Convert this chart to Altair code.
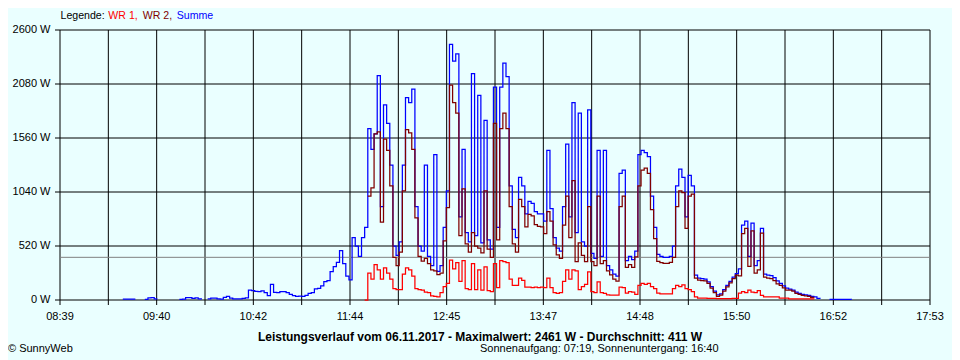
import altair as alt
import pandas as pd

# ---------------- data ----------------
START_MIN = 519          # 08:39 as minutes after midnight
END_MIN = 1073           # 17:53
STEP_MIN = 2             # sample spacing of the lists below (minutes)

N = None
summe = (
    [N] * 20
    + [8, 8, 8, 8, 8, N, N, 5, 20, 22, 12, 12, N, 6, N, N, N, N]
    + [5, 8, 22, 22, 15, 20, 10, 5, N, 10, 18, 18, 10, 8]
    + [25, 35, 18, 10, 10, 12, 15, 20]
    + [96, 90, 82, 80, 87, 70, 42, 150, 74, 70]
    + [80, 80, 70, 55, 42, 35, 38, 35, 45, 64]
    + [70, 106, 112, 135, 177, 186, 273, 321, 363, 475]
    + [350, 230, 195, 600, 520, 420, 600, 700, 1650, 1450]
    + [1600, 2160, 900, 1880, 1700, 1300, 520, 430, 560, 1300]
    + [1950, 1900, 2030, 900, 520, 470, 1300, 420, 330, 1400]
    + [275, 330, 700, 1050, 2461, 2300, 2370, 800, 1450, 650]
    + [560, 2180, 620, 1970, 550, 1730, 580, 490, 2050, 700]
    + [2050, 2280, 2150, 1100, 680, 600, 1180, 1100, 830, 950]
    + [930, 850, 830, 830, 760, 1440, 880, 600, 500, 470]
    + [900, 1500, 800, 1900, 650, 1800, 560, 520, 1830, 450]
    + [400, 1440, 420, 1440, 330, 290, 250, 230, 1220, 1250]
    + [380, 420, 390, 470, 1400, 1440, 1420, 1380, 1000, 700]
    + [440, 420, 410, 410, 420, 520, 1100, 1260, 1180, 800]
    + [1200, 1100, 240, 210, 205, 200, 175, 130, 85, 50]
    + [60, 100, 140, 180, 220, 255, 300, 720, 760, 420]
    + [740, 330, 380, 690, 250, 240, 235, 215, 185, 160]
    + [135, 115, 105, 95, 75, 65, 55, 50, 45, 35]
    + [30, 15, 12, N, N, 7, 7, 7, 7, 7]
    + [7, 7, 5, N, 5, N, N, N, N, N]
    + [N] * 18
)

wr1 = (
    [N] * 97
    + [0]
    + [260, 200, 340, 290, 200, 310, 260, 200, 110, 100]
    + [100, 250, 310, 290, 230, 110, 100, 95, 75, 70]
    + [40, 35, 30, 70, 130, 160, 385, 300, 360, 180]
    + [380, 110, 100, 350, 100, 290, 95, 320, 90, 80]
    + [350, 120, 380, 370, 360, 200, 140, 140, 210, 190]
    + [125, 125, 120, 125, 120, 125, 120, 210, 120, 70]
    + [65, 70, 180, 290, 200, 290, 280, 100, 130, 150]
    + [270, 80, 70, 175, 70, 65, 50, 48, 48, 48]
    + [125, 120, 67, 80, 75, 55, 140, 160, 150, 160]
    + [130, 110, 67, 60, 58, 58, 58, 110, 140, 130]
    + [145, 110, 100, 80, 30, 19, 18, 17, 16, 15]
    + [15, 14, 14, 14, 14, 14, 15, 15, 67, 80]
    + [70, 95, 75, 70, 90, 45, 30, 29, 29, 29]
    + [29, 19, 19, 19, 10, 10, 10, 10, 10, 10]
    + [10, 10, 8]
    + [N] * 37
)

wr2 = (
    [N] * 98
    + [1000, 1080, 1600, 1620, 750, 1550, 1440, 1100, 410, 330]
    + [460, 1050, 1640, 1610, 1450, 790, 420, 375, 400, 350]
    + [290, 280, 245, 260, 570, 890, 2070, 1900, 1800, 620]
    + [1070, 540, 460, 650, 520, 500, 455, 1050, 490, 410]
    + [1700, 580, 1650, 1800, 1650, 900, 540, 460, 970, 900]
    + [705, 825, 810, 725, 710, 705, 640, 850, 760, 530]
    + [435, 400, 720, 1000, 600, 1150, 370, 550, 430, 370]
    + [900, 370, 330, 1000, 350, 380, 280, 242, 202, 182]
    + [900, 1000, 313, 340, 315, 415, 1100, 1250, 1270, 1220]
    + [870, 590, 373, 360, 352, 352, 362, 410, 900, 1050]
    + [1035, 690, 1000, 1020, 210, 191, 187, 183, 160, 115]
    + [71, 36, 46, 86, 126, 166, 206, 240, 233, 640]
    + [690, 325, 665, 260, 290, 645, 220, 211, 206, 186]
    + [156, 141, 116, 96, 95, 85, 65, 55, 45, 40]
    + [35, 25, 22]
    + [N] * 37
)

average = [411]
x_labels = ["08:39", "09:40", "10:42", "11:44", "12:45",
            "13:47", "14:48", "15:50", "16:52", "17:53"]
y_ticks = [0, 520, 1040, 1560, 2080, 2600]
legend_parts = ["Legende:", "WR 1,", "WR 2,", "Summe"]
title_text = "Leistungsverlauf vom 06.11.2017 - Maximalwert: 2461 W - Durchschnitt: 411 W"
subtitle_text = "Sonnenaufgang: 07:19, Sonnenuntergang: 16:40"
credit_text = "\u00a9 SunnyWeb"

# ---------------- styling ----------------
BG = "#EAFFFF"
FONT = "Liberation Sans"
C_SUM, C_WR1, C_WR2 = "#0000FF", "#FF0000", "#800000"
LW = 1.25

times = [START_MIN + STEP_MIN * i for i in range(len(summe))]
df_sum = pd.DataFrame({"t": times, "w": summe})
df_wr1 = pd.DataFrame({"t": times, "w": wr1})
df_wr2 = pd.DataFrame({"t": times, "w": wr2})
df_avg = pd.DataFrame({"w": average})

n_grid = 18
span = END_MIN - START_MIN
x_grid = [START_MIN + span * k / n_grid for k in range(n_grid + 1)]
df_xgrid = pd.DataFrame({"t": x_grid})
df_xlab = pd.DataFrame({"t": x_grid[::2], "lab": x_labels})
df_ygrid = pd.DataFrame({"w": y_ticks, "lab": ["%d W" % v for v in y_ticks]})

x_scale = alt.Scale(domain=[START_MIN, END_MIN], nice=False, zero=False)
y_scale = alt.Scale(domain=[0, 2600], nice=False)
X = lambda f: alt.X(f, scale=x_scale, axis=None)
Y = lambda f: alt.Y(f, scale=y_scale, axis=None)

# grid lines, ticks and tick labels, drawn from the tick arrays
v_grid = alt.Chart(df_xgrid).mark_rule(color="black", strokeWidth=1).encode(
    x=X("t:Q"), y=alt.value(0), y2=alt.value(275))
h_grid = alt.Chart(df_ygrid).mark_rule(color="black", strokeWidth=1).encode(
    y=Y("w:Q"), x=alt.value(-5), x2=alt.value(870))
x_text = alt.Chart(df_xlab).mark_text(
    font=FONT, fontSize=11, color="black", baseline="middle", align="center"
).encode(x=X("t:Q"), y=alt.value(286.5), text="lab:N")
y_text = alt.Chart(df_ygrid).mark_text(
    font=FONT, fontSize=11, color="black", baseline="middle", align="right"
).encode(y=Y("w:Q"), x=alt.value(-9.5), text="lab:N")

avg_rule = alt.Chart(df_avg).mark_rule(color="#808080", strokeWidth=1).encode(
    y=Y("w:Q"), x=alt.value(0), x2=alt.value(870))


def series_line(df, color):
    return alt.Chart(df).mark_line(
        interpolate="step-after", color=color, strokeWidth=LW,
        invalid="break-paths-show-domains",
    ).encode(x=X("t:Q"), y=Y("w:Q"))


one = alt.Data(values=[{"k": 0}])


def label(text, x, y, color="black", align="left", size=11, weight="normal"):
    return alt.Chart(one).mark_text(
        align=align, baseline="middle", font=FONT, fontSize=size,
        fontWeight=weight, color=color,
    ).encode(x=alt.value(x), y=alt.value(y), text=alt.value(text))


legend_colors = ["black", C_WR1, C_WR2, C_SUM]
legend_x = [0.5, 48.3, 82.7, 116.7]
texts = [label(t, x, -14, c, size=10.6)
         for t, x, c in zip(legend_parts, legend_x, legend_colors)]
texts += [
    label(title_text, 420, 306.7, align="center", size=12, weight="bold"),
    label(subtitle_text, 420, 319.3),
    label(credit_text, -52, 319.3),
]

chart = alt.layer(
    v_grid, h_grid, avg_rule,
    series_line(df_sum, C_SUM),
    series_line(df_wr2, C_WR2),
    series_line(df_wr1, C_WR1),
    x_text, y_text,
    *texts,
).properties(
    width=870, height=270,
    autosize=alt.AutoSizeParams(type="none"),
    padding={"left": 52, "top": 22, "right": 22, "bottom": 60},
    background=BG,
    usermeta={"embedOptions": {"defaultStyle":
        "html,body{background:%s;overflow:hidden}"
        ".vega-embed{position:relative;display:inline-block;box-sizing:border-box}" % BG}},
).configure_view(stroke=None)

chart.save("out.html", embed_options={"renderer": "svg", "actions": False})
